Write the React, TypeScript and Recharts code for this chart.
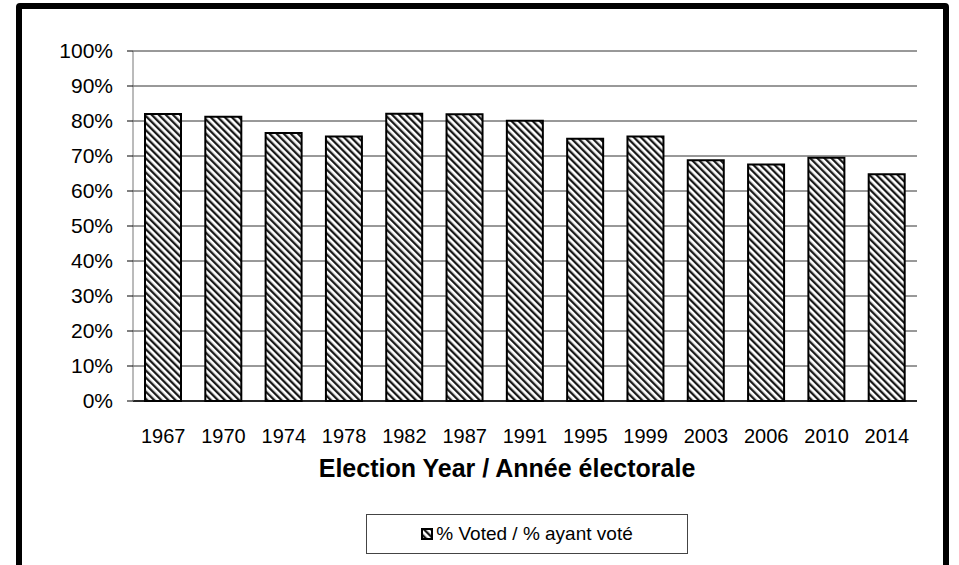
import React from 'react'
import { BarChart, Bar, XAxis, YAxis, CartesianGrid } from 'recharts'

const years = ['1967', '1970', '1974', '1978', '1982', '1987', '1991', '1995', '1999', '2003', '2006', '2010', '2014']
const voted = [82.0, 81.2, 76.6, 75.6, 82.1, 81.9, 80.1, 74.9, 75.6, 68.8, 67.6, 69.5, 64.8]
const yTicks = [0, 10, 20, 30, 40, 50, 60, 70, 80, 90, 100]
const seriesName = '% Voted / % ayant voté'
const xTitle = 'Election Year / Année électorale'

const data = years.map((year, i) => ({ year, voted: voted[i] }))

const FONT = '"Liberation Sans", Arial, sans-serif'

function HatchDefs() {
  return (
    <svg width={0} height={0} style={{ position: 'absolute' }}>
      <defs>
        <pattern id="hatch" patternUnits="userSpaceOnUse" width={5} height={5} patternTransform="rotate(-45)">
          <rect x={0} y={0} width={5} height={5} fill="#fff" />
          <rect x={0} y={0} width={2.3} height={5} fill="#1a1a1a" />
        </pattern>
      </defs>
    </svg>
  )
}

export default function App() {
  return (
    <div style={{ position: 'absolute', left: 0, top: 0, width: 959, height: 565, overflow: 'hidden', background: '#fff', fontFamily: FONT }}>
      <HatchDefs />
      {/* outer frame */}
      <div
        style={{
          position: 'absolute',
          left: 16,
          top: 3,
          width: 921,
          height: 600,
          border: '6px solid #000',
          borderRadius: 4,
        }}
      />
      <div style={{ position: 'absolute', left: 0, top: 0 }}>
        <BarChart width={959} height={565} data={data} margin={{ top: 51, right: 42, left: 0, bottom: 84 }}>
          <CartesianGrid vertical={false} stroke="#333" />
          <XAxis
            dataKey="year"
            height={80}
            tickLine={false}
            tickMargin={22}
            axisLine={{ stroke: '#000', strokeWidth: 1.5 }}
            tick={{ fill: '#000', fontSize: 20, fontFamily: FONT }}
            interval={0}
            label={{
              value: xTitle,
              position: 'insideBottom',
              offset: 4,
              dx: -18,
              fill: '#000',
              fontSize: 25,
              fontWeight: 'bold',
              fontFamily: FONT,
            }}
          />
          <XAxis xAxisId="top" orientation="top" dataKey="year" height={0} tick={false} tickLine={false} axisLine={{ stroke: '#999' }} />
          <YAxis
            domain={[0, 100]}
            ticks={yTicks}
            width={133}
            interval={0}
            tickSize={6}
            tickMargin={14}
            tickFormatter={(v) => `${v}%`}
            axisLine={{ stroke: '#777' }}
            tickLine={{ stroke: '#000' }}
            tick={{ fill: '#000', fontSize: 21, fontFamily: FONT }}
          />
          <YAxis yAxisId="right" orientation="right" width={0} domain={[0, 100]} tick={false} tickLine={false} axisLine={{ stroke: '#999' }} />
          <Bar dataKey="voted" name={seriesName} barSize={36} fill="url(#hatch)" stroke="#000" strokeWidth={2} isAnimationActive={false} />
        </BarChart>
      </div>
      {/* legend */}
      <div
        style={{
          position: 'absolute',
          left: 366,
          top: 514,
          width: 320,
          height: 38,
          border: '1px solid #444',
          display: 'flex',
          alignItems: 'center',
          justifyContent: 'center',
          fontSize: 19,
          color: '#000',
        }}
      >
        <svg width={12} height={12} style={{ marginRight: 3 }}>
          <rect x={1} y={1} width={10} height={10} fill="url(#hatch)" stroke="#000" strokeWidth={2} />
        </svg>
        <span>{seriesName}</span>
      </div>
    </div>
  )
}
